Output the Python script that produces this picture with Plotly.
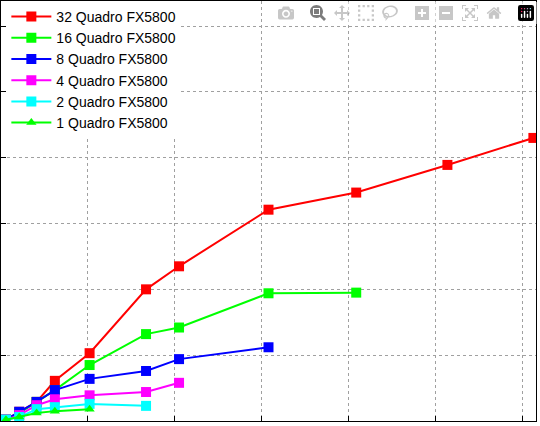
import plotly.graph_objects as go

x = [0.057, 0.21, 0.41, 0.62, 1.02, 1.67, 2.05, 3.08, 4.09, 5.14, 6.13]

names = ['32 Quadro FX5800', '16 Quadro FX5800', '8 Quadro FX5800',
         '4 Quadro FX5800', '2 Quadro FX5800', '1 Quadro FX5800']
y32 = [0.02, 0.14, 0.29, 0.61, 1.03, 2.0, 2.35, 3.21, 3.47, 3.89, 4.30]
y16 = [0.02, 0.12, 0.29, 0.47, 0.85, 1.32, 1.42, 1.94, 1.95]
y8 = [0.02, 0.14, 0.29, 0.47, 0.64, 0.76, 0.94, 1.12]
y4 = [0.02, 0.09, 0.24, 0.33, 0.39, 0.44, 0.58]
y2 = [0.02, 0.06, 0.18, 0.21, 0.26, 0.23]
y1 = [0.02, 0.06, 0.12, 0.15, 0.18]
series = [y32, y16, y8, y4, y2, y1]
colors = ['#ff0000', '#00ff00', '#0000ff', '#ff00ff', '#00ffff', '#00ff00']
symbols = ['square', 'square', 'square', 'square', 'square', 'triangle-up']

fig = go.Figure()
for name, ys, c, s in zip(names, series, colors, symbols):
    fig.add_trace(go.Scatter(
        x=x[:len(ys)], y=ys, name=name, mode='lines+markers',
        line=dict(color=c, width=2),
        marker=dict(color=c, symbol=s, size=10 if s == 'square' else 9)))

grid = dict(showgrid=True, gridcolor='#a0a0a0', griddash='dot', gridwidth=1,
            zeroline=False, showticklabels=False, showline=True,
            linecolor='black', mirror=True, ticks='inside', ticklen=5,
            tickcolor='black', dtick=1, automargin=False)
fig.update_layout(
    width=540, height=426, margin=dict(l=1, r=4, t=1, b=5),
    plot_bgcolor='white', paper_bgcolor='white',
    font=dict(family='Liberation Sans', size=14, color='black'),
    xaxis=dict(range=[0, 6.16], tick0=0, **grid),
    yaxis=dict(range=[0, 6.38], tick0=0, **grid),
    legend=dict(x=0.01, y=1.0, xanchor='left', yanchor='top',
                bgcolor='white', borderwidth=0, tracegroupgap=0,
                itemwidth=40, font=dict(size=14)),
)
fig.write_html("out.html", post_script="document.body.style.margin='0';")
